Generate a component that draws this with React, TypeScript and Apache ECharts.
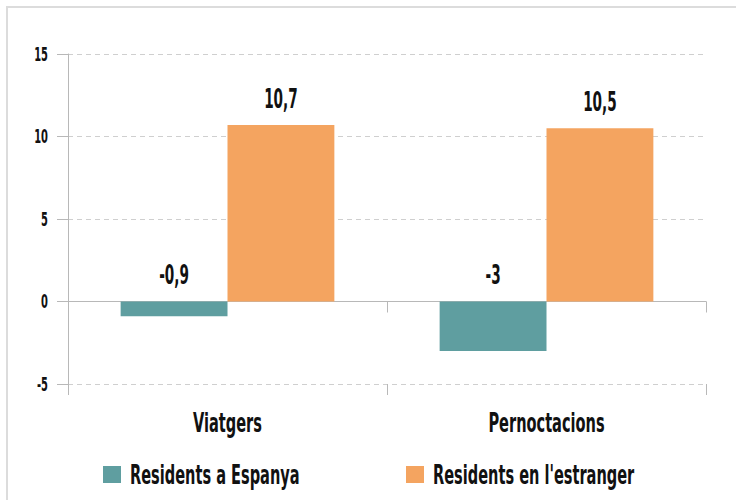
import React, { useEffect, useRef } from "react";
import * as echarts from "echarts";

const categories = ["Viatgers", "Pernoctacions"];
const seriesNames = ["Residents a Espanya", "Residents en l'estranger"];
const residentsEspanya = [-0.9, -3];
const residentsEstranger = [10.7, 10.5];
const yTicks = [-5, 0, 5, 10, 15];
const yMin = -5;
const yMax = 15;
const yInterval = 5;

const FONT = "'DejaVu Sans Condensed', 'DejaVu Sans', sans-serif";
const TEAL = "#5f9ea0";
const ORANGE = "#f4a460";
const AXIS = "#b8b8b8";
const INK = "#111";
const SX = 0.6;
const BIG = 27;
const SMALL = 20;
const CATEGORY_GAP = 0.33;

const fmt = (v: number) => String(v).replace(".", ",");

function txt(text: string, x: number, baseline: number, size: number, align: string, sx = SX) {
  return {
    type: "text",
    x,
    y: baseline - 0.346 * size,
    scaleX: sx,
    silent: true,
    style: {
      text,
      fontFamily: FONT,
      fontWeight: "bold",
      fontSize: size,
      fill: INK,
      align,
      verticalAlign: "middle",
    },
  };
}

export default function App() {
  const ref = useRef<HTMLDivElement>(null);
  useEffect(() => {
    if (!ref.current) return;
    const chart = echarts.init(ref.current, null, { renderer: "svg" });
    chart.setOption({
      animation: false,
      grid: { left: 68, right: 30, top: 54, bottom: 116, containLabel: false },
      xAxis: [
        {
          type: "category",
          data: categories,
          position: "bottom",
          axisLine: { show: true, onZero: true, lineStyle: { color: AXIS, width: 1 } },
          axisTick: { show: true, length: 11, lineStyle: { color: AXIS } },
          axisLabel: { show: false },
          splitLine: { show: false },
        },
        {
          type: "category",
          data: categories,
          position: "bottom",
          axisLine: { show: false, onZero: false },
          axisTick: { show: true, length: 11, lineStyle: { color: AXIS } },
          axisLabel: { show: false },
          splitLine: { show: false },
        },
      ],
      yAxis: {
        type: "value",
        min: yMin,
        max: yMax,
        interval: yInterval,
        axisLine: { show: true, lineStyle: { color: AXIS } },
        axisTick: { show: true, length: 11, lineStyle: { color: AXIS } },
        axisLabel: { show: false },
        splitLine: { show: true, lineStyle: { color: "#cfcfcf", type: [5, 4] } },
      },
      series: [
        {
          name: seriesNames[0],
          type: "bar",
          xAxisIndex: 0,
          data: residentsEspanya,
          itemStyle: { color: TEAL },
          barGap: "0%",
          barCategoryGap: CATEGORY_GAP * 100 + "%",
        },
        {
          name: seriesNames[1],
          type: "bar",
          xAxisIndex: 0,
          data: residentsEstranger,
          itemStyle: { color: ORANGE },
          barGap: "0%",
          barCategoryGap: CATEGORY_GAP * 100 + "%",
        },
      ],
    });

    const px = (c: string) => chart.convertToPixel({ xAxisIndex: 0 }, c) as number;
    const py = (v: number) => chart.convertToPixel({ yAxisIndex: 0 }, v) as number;
    const band = px(categories[1]) - px(categories[0]);
    const barOffset = (band * (1 - CATEGORY_GAP)) / 4;
    const elements: any[] = [];

    // y-axis tick labels
    yTicks.forEach((t) => elements.push(txt(String(t), 48, py(t) + 7, SMALL, "right", 0.55)));
    // category labels
    categories.forEach((c) => elements.push(txt(c, px(c), py(yMin) + 48, BIG, "center")));
    // value labels
    const seriesVals = [residentsEspanya, residentsEstranger];
    seriesVals.forEach((vals, si) =>
      vals.forEach((v, i) => {
        const x = px(categories[i]) + (si === 0 ? -barOffset : barOffset);
        const top = py(Math.max(v, 0));
        elements.push(txt(fmt(v), x, top - 17, BIG, "center", 0.56));
      })
    );
    // legend
    const legendX = [103, 406];
    const colors = [TEAL, ORANGE];
    seriesNames.forEach((n, i) => {
      elements.push({
        type: "rect",
        silent: true,
        shape: { x: legendX[i], y: 466, width: 18, height: 17 },
        style: { fill: colors[i] },
      });
      elements.push(txt(n, legendX[i] + 27, 484, BIG, "left"));
    });

    chart.setOption({ graphic: elements });
    return () => chart.dispose();
  }, []);
  return (
    <div
      style={{
        position: "fixed",
        left: 0,
        top: 0,
        width: 736,
        height: 500,
        overflow: "hidden",
        background: "#fff",
      }}
    >
      <div
        style={{
          position: "absolute",
          left: 6,
          top: 6,
          width: 760,
          height: 520,
          border: "2px solid #dcdcdc",
          boxSizing: "border-box",
        }}
      />
      <div ref={ref} style={{ position: "absolute", left: 0, top: 0, width: 736, height: 500 }} />
    </div>
  );
}
